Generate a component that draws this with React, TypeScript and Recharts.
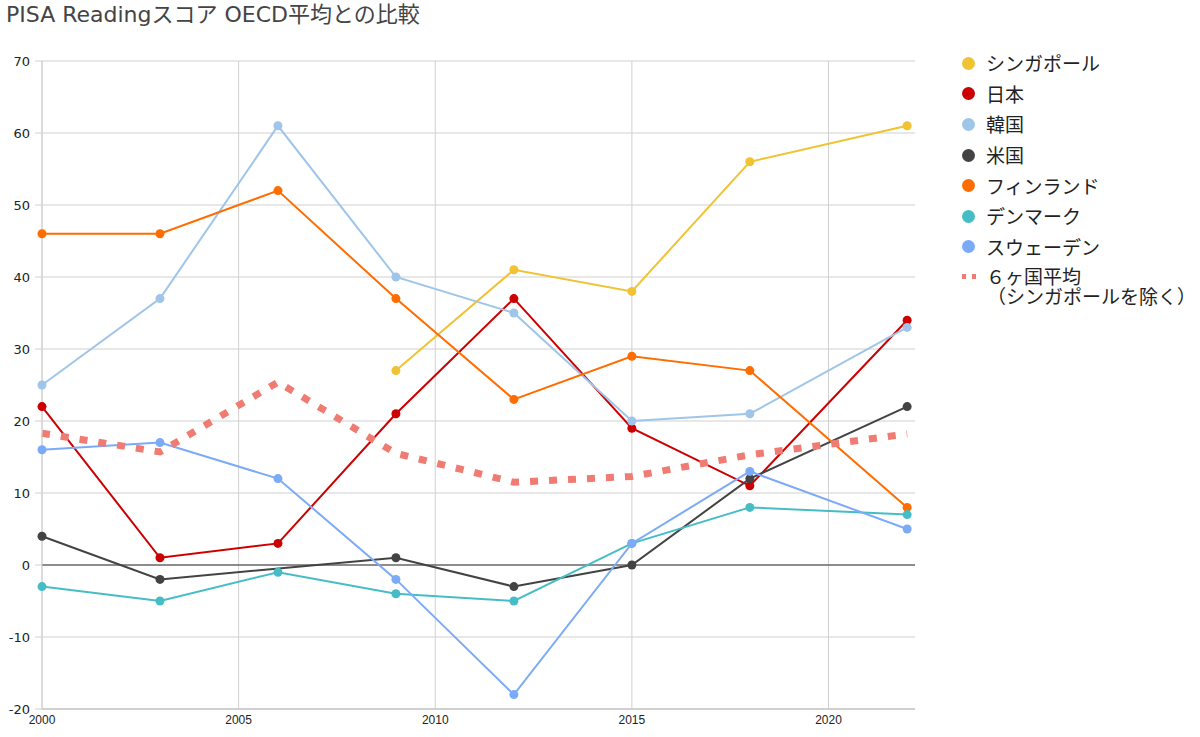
import React from "react";
import { LineChart, Line, XAxis, YAxis, CartesianGrid, ReferenceLine } from "recharts";

const years = [2000, 2003, 2006, 2009, 2012, 2015, 2018, 2022];
const singapore = [null, null, null, 27, 41, 38, 56, 61];
const japan = [22, 1, 3, 21, 37, 19, 11, 34];
const korea = [25, 37, 61, 40, 35, 20, 21, 33];
const usa = [4, -2, null, 1, -3, 0, 12, 22];
const finland = [46, 46, 52, 37, 23, 29, 27, 8];
const denmark = [-3, -5, -1, -4, -5, 3, 8, 7];
const sweden = [16, 17, 12, -2, -18, 3, 13, 5];
const average = [18.3, 15.7, 25.4, 15.5, 11.5, 12.3, 15.3, 18.2];

const xTicks = [2000, 2005, 2010, 2015, 2020];
const yTicks = [-20, -10, 0, 10, 20, 30, 40, 50, 60, 70];

const title = "PISA Readingスコア OECD平均との比較";

const series = [
  { key: "sg", name: "シンガポール", color: "#f1c232", values: singapore },
  { key: "jp", name: "日本", color: "#cc0000", values: japan },
  { key: "kr", name: "韓国", color: "#9fc5e8", values: korea },
  { key: "us", name: "米国", color: "#434343", values: usa },
  { key: "fi", name: "フィンランド", color: "#ff6d01", values: finland },
  { key: "dk", name: "デンマーク", color: "#46bdc6", values: denmark },
  { key: "se", name: "スウェーデン", color: "#7baaf7", values: sweden },
];
const avgName = "６ヶ国平均";
const avgSub = "（シンガポールを除く）";
const avgColor = "#f07b72";

const data = years.map((y, i) => {
  const row: any = { year: y, avg: average[i] };
  series.forEach((s) => {
    row[s.key] = s.values[i];
  });
  return row;
});

const font = "'Noto Sans CJK JP', 'Noto Sans', sans-serif";
const titleFont = "'DejaVu Sans', 'Noto Sans CJK JP', sans-serif";

export default function App() {
  return (
    <div style={{ position: "absolute", left: 0, top: 0, width: 1200, height: 737, background: "#fff", fontFamily: font }}>
      <div style={{ position: "absolute", left: 6, top: 2, fontSize: 22, lineHeight: "26px", color: "#444", whiteSpace: "nowrap", fontFamily: titleFont }}>{title}</div>
      <LineChart width={1200} height={737} data={data} margin={{ top: 61, right: 285, bottom: 0, left: 0 }}>
        <CartesianGrid stroke="#d0d0d0" verticalValues={xTicks} horizontal={true} vertical={true} />
        <XAxis
          dataKey="year"
          type="number"
          domain={[2000, 2022.2]}
          ticks={xTicks}
          height={28}
          tickSize={0}
          tickMargin={6}
          axisLine={{ stroke: "#c8c8c8", strokeWidth: 1.5 }}
          tickLine={false}
          tick={{ fontSize: 12, fill: "#222", fontFamily: "'Liberation Sans Narrow', 'Liberation Sans', sans-serif" }}
        />
        <YAxis
          type="number"
          domain={[-20, 70]}
          ticks={yTicks}
          width={42}
          tickSize={7}
          tickMargin={5}
          axisLine={{ stroke: "#d0d0d0" }}
          tickLine={{ stroke: "#d0d0d0" }}
          tick={{ fontSize: 13, fill: "#222", fontFamily: "'DejaVu Sans', sans-serif" }}
        />
        <ReferenceLine y={0} stroke="#333" strokeWidth={1} />
        {series.map((s) => (
          <Line
            key={s.key}
            dataKey={s.key}
            name={s.name}
            type="linear"
            stroke={s.color}
            strokeWidth={2}
            dot={{ r: 4.5, fill: s.color, stroke: s.color, strokeWidth: 0 }}
            activeDot={false}
            connectNulls={true}
            isAnimationActive={false}
          />
        ))}
        <Line
          dataKey="avg"
          name={avgName}
          type="linear"
          stroke={avgColor}
          strokeWidth={7}
          strokeDasharray="8 11"
          dot={false}
          activeDot={false}
          isAnimationActive={false}
        />
      </LineChart>
      <div style={{ position: "absolute", left: 960, top: 48 }}>
        {series.map((s) => (
          <div key={s.key} style={{ height: 30.6, display: "flex", alignItems: "center", fontSize: 19, lineHeight: "22px", color: "#222", whiteSpace: "nowrap" }}>
            <span style={{ display: "inline-block", width: 13, height: 13, borderRadius: "50%", background: s.color, marginLeft: 2, marginRight: 11 }} />
            {s.name}
          </div>
        ))}
        <div style={{ position: "relative", marginTop: 4.3, fontSize: 19, lineHeight: "20px", color: "#222", whiteSpace: "nowrap" }}>
          <span style={{ position: "absolute", left: 2, top: 8, width: 4, height: 5, background: avgColor }} />
          <span style={{ position: "absolute", left: 12, top: 8, width: 4, height: 5, background: avgColor }} />
          <div style={{ marginLeft: 26 }}>{avgName}</div>
          <div style={{ marginLeft: 27 }}>{avgSub}</div>
        </div>
      </div>
    </div>
  );
}
